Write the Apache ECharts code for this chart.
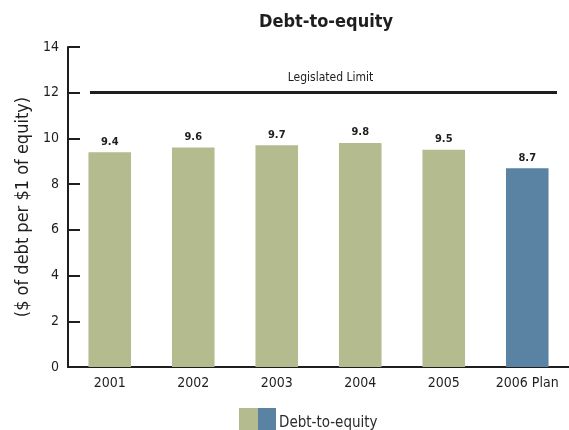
<!DOCTYPE html>
<html>
<head>
<meta charset="utf-8">
<script src="https://cdn.jsdelivr.net/npm/echarts@6/dist/echarts.min.js"></script>
<style>
  html, body { margin: 0; padding: 0; background: #fff; }
  #chart { width: 569px; height: 430px; }
</style>
</head>
<body>
<div id="chart"></div>
<script>
// Debt-to-equity ratio by year, with the legislated ceiling
const years = ['2001', '2002', '2003', '2004', '2005', '2006 Plan'];
const ratios = [9.4, 9.6, 9.7, 9.8, 9.5, 8.7];
const legislatedLimit = 12;
const yTicks = { min: 0, max: 14, interval: 2 };

const FONT = '"DejaVu Sans Condensed", "Liberation Sans Narrow", sans-serif';
const GREEN = '#b3bb8f';
const BLUE = '#5a83a3';
const INK = '#1e1e1e';

const chart = echarts.init(document.getElementById('chart'), null, { renderer: 'canvas' });

chart.setOption({
  backgroundColor: '#fff',
  animation: false,
  textStyle: { fontFamily: FONT },
  title: {
    text: 'Debt-to-equity',
    left: 321,
    top: 8,
    textAlign: 'center',
    textStyle: { fontFamily: FONT, fontSize: 18, fontWeight: 'bold', color: INK }
  },
  legend: {
    left: 234,
    top: 403,
    itemWidth: 37,
    itemHeight: 30,
    itemGap: 0,
    icon: 'rect',
    textStyle: { fontFamily: FONT, fontSize: 15, color: '#2a2a2a', padding: [0, 0, 0, -2] },
    data: [{
      name: 'Debt-to-equity',
      itemStyle: {
        color: new echarts.graphic.LinearGradient(0, 0, 1, 0, [
          { offset: 0, color: GREEN }, { offset: 0.5, color: GREEN },
          { offset: 0.5, color: BLUE }, { offset: 1, color: BLUE }
        ])
      }
    }]
  },
  grid: { left: 68, right: -6, top: 47, bottom: 63, containLabel: false },
  xAxis: {
    type: 'category',
    data: years,
    axisLine: { lineStyle: { color: INK, width: 2 } },
    axisTick: { inside: true, length: 8, lineStyle: { color: INK, width: 2 } },
    axisLabel: { interval: 0, fontFamily: FONT, fontSize: 14, color: INK, margin: 9 }
  },
  yAxis: {
    type: 'value',
    min: yTicks.min,
    max: yTicks.max,
    interval: yTicks.interval,
    name: '($ of debt per $1 of equity)',
    nameLocation: 'middle',
    nameGap: 30,
    nameTextStyle: { fontFamily: FONT, fontSize: 18, color: INK },
    axisLine: { show: true, lineStyle: { color: INK, width: 2 } },
    axisTick: { show: true, inside: true, length: 12, lineStyle: { color: INK, width: 2 } },
    axisLabel: { fontFamily: FONT, fontSize: 14, color: INK, margin: 9 },
    splitLine: { show: false }
  },
  series: [{
    name: 'Debt-to-equity',
    type: 'bar',
    barWidth: '51%',
    data: ratios.map((v, i) => ({
      value: v,
      itemStyle: { color: i === ratios.length - 1 ? BLUE : GREEN }
    })),
    label: {
      show: true,
      position: 'top',
      distance: 5,
      fontFamily: FONT,
      fontSize: 11,
      fontWeight: 'bold',
      color: INK,
      formatter: p => p.value.toFixed(1)
    },
    markLine: {
      silent: true,
      symbol: 'none',
      lineStyle: { color: INK, width: 3, type: 'solid' },
      label: {
        show: true,
        position: 'insideMiddleTop',
        distance: 9,
        offset: [7, 0],
        fontFamily: FONT,
        fontSize: 12,
        color: INK,
        formatter: 'Legislated Limit'
      },
      data: [[
        { x: 90, coord: [0, legislatedLimit] },
        { x: 557, coord: [years.length - 1, legislatedLimit] }
      ]]
    }
  }]
});
</script>
</body>
</html>
